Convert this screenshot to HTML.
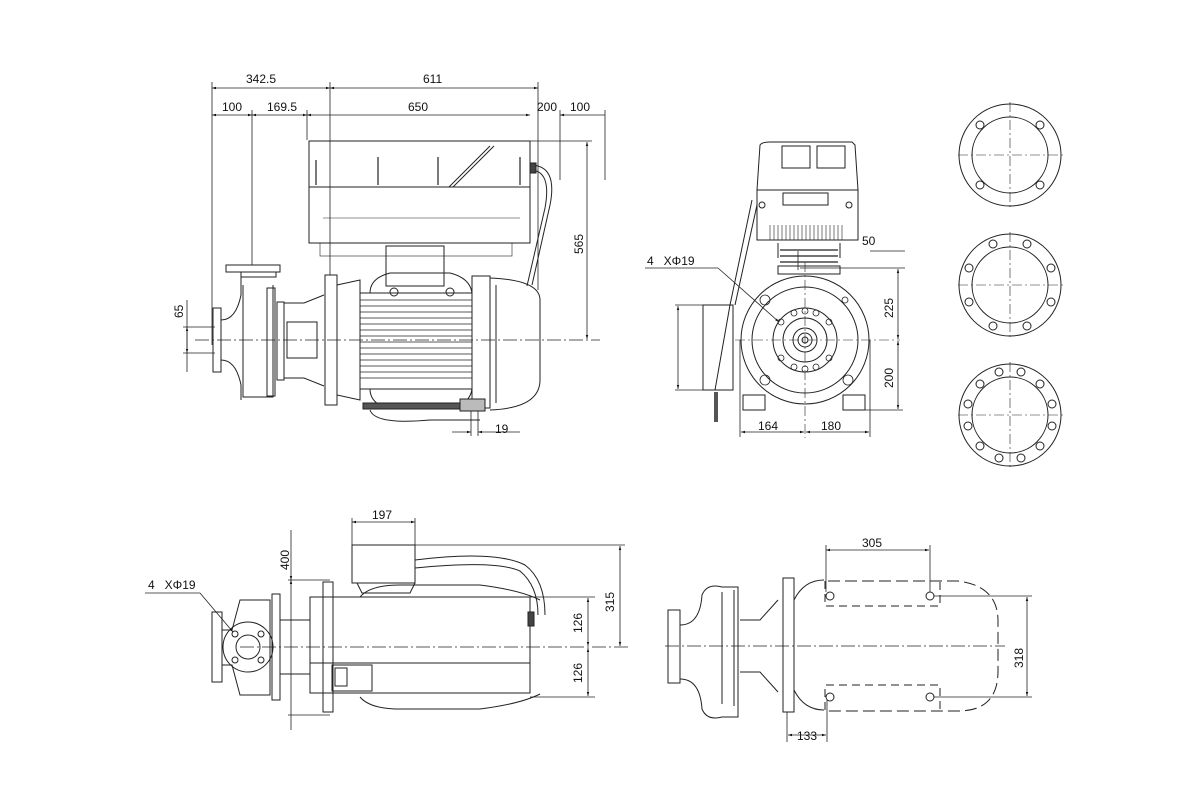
<!DOCTYPE html>
<html><head><meta charset="utf-8"><style>
html,body{margin:0;padding:0;background:#fff}
svg{display:block}
text{font-family:"Liberation Sans",sans-serif;font-size:12px;fill:#111}
</style></head><body>
<svg width="1200" height="800" viewBox="0 0 1200 800" xmlns="http://www.w3.org/2000/svg">
<defs>
<marker id="a" viewBox="0 0 10 10" refX="10" refY="5" markerWidth="7" markerHeight="5" orient="auto-start-reverse"><path d="M0,2 L10,5 L0,8z" fill="#111"/></marker>
</defs>
<g stroke="#222" stroke-width="1" fill="none">
<!-- ===== TOP LEFT VIEW ===== -->
<g stroke-width="0.8">
<line x1="212" y1="88" x2="330" y2="88" marker-start="url(#a)" marker-end="url(#a)"/>
<line x1="330" y1="88" x2="538" y2="88" marker-start="url(#a)" marker-end="url(#a)"/>
<line x1="212" y1="115" x2="252" y2="115" marker-start="url(#a)" marker-end="url(#a)"/>
<line x1="252" y1="115" x2="307" y2="115" marker-start="url(#a)" marker-end="url(#a)"/>
<line x1="307" y1="115" x2="530" y2="115" marker-start="url(#a)" marker-end="url(#a)"/>
<line x1="560" y1="115" x2="605" y2="115" marker-start="url(#a)"/>
<line x1="212" y1="82" x2="212" y2="345"/>
<line x1="252" y1="110" x2="252" y2="265"/>
<line x1="330" y1="82" x2="330" y2="275"/>
<line x1="307" y1="110" x2="307" y2="140"/>
<line x1="538" y1="82" x2="538" y2="290"/>
<line x1="560" y1="110" x2="560" y2="180"/>
<line x1="605" y1="110" x2="605" y2="180"/>
<line x1="530" y1="141" x2="592" y2="141"/>
<line x1="587" y1="142" x2="587" y2="339" marker-start="url(#a)" marker-end="url(#a)"/>
<line x1="187" y1="327" x2="187" y2="353" marker-start="url(#a)" marker-end="url(#a)"/>
<line x1="183" y1="327" x2="215" y2="327"/><line x1="183" y1="353" x2="215" y2="353"/>
<line x1="187" y1="300" x2="187" y2="372"/>
<line x1="452" y1="432" x2="471" y2="432" marker-end="url(#a)"/>
<line x1="478" y1="432" x2="520" y2="432" marker-start="url(#a)"/>
<line x1="471" y1="400" x2="471" y2="436"/><line x1="478" y1="400" x2="478" y2="436"/>
</g>
<line x1="195" y1="340" x2="600" y2="340" stroke-dasharray="14,3,2,3" stroke-width="0.7"/>
<!-- controller -->
<rect x="309" y="141" width="221" height="46"/>
<rect x="309" y="187" width="221" height="56"/>
<line x1="449" y1="187" x2="490" y2="146"/><line x1="453" y1="187" x2="494" y2="146"/>
<line x1="323" y1="218" x2="520" y2="218" stroke-width="0.6"/>
<path d="M316 185v-25M378 185v-28M438 185v-28M520 185v-28" stroke-width="1.2"/>
<rect x="320" y="243" width="192" height="13" stroke-width="0.6"/>
<path d="M530 165 q28 0 20 40 l-18 80" /><path d="M530 170 q22 0 15 38 l-18 78"/>
<rect x="530" y="163" width="6" height="10" fill="#444"/>
<!-- motor -->
<rect x="386" y="246" width="58" height="40"/>
<rect x="325" y="275" width="12" height="130"/>
<path d="M337 285 L360 280 L360 400 L337 395z"/>
<rect x="360" y="293" width="112" height="96"/>
<g stroke-width="0.7"><path d="M360 300h112M360 306h112M360 312h112M360 318h112M360 324h112M360 330h112M360 336h112M360 342h112M360 348h112M360 354h112M360 360h112M360 366h112M360 372h112M360 378h112"/></g>
<path d="M370 293 q0-15 20-20 h60 q20 5 22 20"/>
<path d="M370 389 q0 15 20 20 h60 q20 -5 22 -20"/>
<circle cx="394" cy="292" r="4"/><circle cx="450" cy="292" r="4"/>
<rect x="472" y="276" width="18" height="132"/>
<path d="M490 278 Q540 280 540 300 L540 380 Q540 408 490 410"/>
<path d="M496 285 v118"/>
<rect x="363" y="403" width="110" height="6" fill="#555"/>
<rect x="460" y="399" width="25" height="12" fill="#bbb"/>
<path d="M370 410 q5 15 60 10 h50"/>
<!-- pump -->
<rect x="213" y="308" width="8" height="64"/>
<path d="M221 320 q15 0 20 -25 v-20 M221 360 q15 0 20 25 v15"/>
<rect x="226" y="265" width="54" height="7"/>
<path d="M241 272 v5 h35 v-5"/>
<path d="M243 285 v112 h30 v-112" />
<rect x="267" y="288" width="8" height="108"/>
<rect x="277" y="302" width="7" height="78"/>
<path d="M284 303 h20 l20 -8 M284 378 h20 l20 8"/>
<rect x="287" y="322" width="30" height="36"/>
<!-- ===== TOP MIDDLE VIEW ===== -->
<path d="M757 190 L760 145 Q762 142 770 142 H852 L855 145 L858 190z"/>
<rect x="782" y="146" width="28" height="22"/><rect x="817" y="146" width="28" height="22"/>
<rect x="757" y="190" width="101" height="50"/>
<rect x="783" y="193" width="45" height="12"/>
<g stroke-width="0.6"><path d="M770 225v15M774 225v15M778 225v15M782 225v15M786 225v15M790 225v15M794 225v15M798 225v15M802 225v15M806 225v15M810 225v15M814 225v15M818 225v15M822 225v15M826 225v15M830 225v15M834 225v15M838 225v15M842 225v15"/></g>
<circle cx="762" cy="205" r="3"/><circle cx="849" cy="205" r="3"/>
<path d="M778 243 v15 M840 243 v15"/>
<path d="M780 250h30M780 256h30M780 262h30M808 250h30M808 256h30M808 262h30" stroke-width="1.2"/>
<rect x="778" y="266" width="62" height="8"/>
<circle cx="805" cy="340" r="64"/>
<circle cx="805" cy="340" r="53"/>
<circle cx="805" cy="340" r="32"/>
<circle cx="805" cy="340" r="22"/>
<circle cx="805" cy="340" r="12"/><circle cx="805" cy="340" r="7"/><circle cx="805" cy="340" r="3"/>
<g stroke-width="0.8">
<circle cx="805" cy="311" r="3"/><circle cx="805" cy="369" r="3"/><circle cx="781" cy="322" r="3"/><circle cx="829" cy="322" r="3"/><circle cx="781" cy="358" r="3"/><circle cx="829" cy="358" r="3"/><circle cx="794" cy="313" r="3"/><circle cx="816" cy="313" r="3"/><circle cx="794" cy="367" r="3"/><circle cx="816" cy="367" r="3"/>
<circle cx="765" cy="300" r="5"/><circle cx="765" cy="380" r="5"/><circle cx="848" cy="380" r="5"/><circle cx="845" cy="300" r="3"/>
</g>
<rect x="743" y="395" width="22" height="15"/><rect x="843" y="395" width="22" height="15"/>
<line x1="805" y1="262" x2="805" y2="438" stroke-dasharray="10,3,2,3" stroke-width="0.6"/>
<line x1="735" y1="340" x2="900" y2="340" stroke-dasharray="10,3,2,3" stroke-width="0.6"/>
<path d="M703 305 h30 v85 h-30z"/><path d="M730 305 l-15 85"/>
<path d="M716 392 v30" stroke-width="4" stroke="#555"/>
<path d="M752 200 l-22 105 M757 205 l-22 100"/>
<g stroke-width="0.8">
<line x1="678" y1="306" x2="678" y2="389" marker-start="url(#a)" marker-end="url(#a)"/>
<line x1="675" y1="305" x2="705" y2="305"/><line x1="675" y1="390" x2="705" y2="390"/>
<line x1="645" y1="268" x2="718" y2="268"/><line x1="718" y1="268" x2="779" y2="322" marker-end="url(#a)"/>
<line x1="870" y1="251" x2="905" y2="251"/><line x1="800" y1="268" x2="905" y2="268"/>
<line x1="798" y1="251" x2="798" y2="270"/>
<line x1="898" y1="269" x2="898" y2="339" marker-start="url(#a)" marker-end="url(#a)"/>
<line x1="898" y1="341" x2="898" y2="409" marker-start="url(#a)" marker-end="url(#a)"/>
<line x1="865" y1="410" x2="903" y2="410"/>
<line x1="741" y1="432" x2="804" y2="432" marker-start="url(#a)" marker-end="url(#a)"/>
<line x1="806" y1="432" x2="869" y2="432" marker-start="url(#a)" marker-end="url(#a)"/>
<line x1="740" y1="340" x2="740" y2="437"/><line x1="870" y1="340" x2="870" y2="437"/>
</g>
<!-- ===== FLANGES ===== -->
<g id="fl">
<circle cx="1010" cy="155" r="51"/><circle cx="1010" cy="155" r="38"/>
<line x1="958" y1="155" x2="1064" y2="155" stroke-dasharray="10,3,2,3" stroke-width="0.6"/>
<line x1="1010" y1="102" x2="1010" y2="210" stroke-dasharray="10,3,2,3" stroke-width="0.6"/>
</g>
<circle cx="980" cy="125" r="4"/><circle cx="1040" cy="125" r="4"/><circle cx="980" cy="185" r="4"/><circle cx="1040" cy="185" r="4"/>
<circle cx="1010" cy="285" r="51"/><circle cx="1010" cy="285" r="38"/>
<line x1="958" y1="285" x2="1064" y2="285" stroke-dasharray="10,3,2,3" stroke-width="0.6"/>
<line x1="1010" y1="232" x2="1010" y2="340" stroke-dasharray="10,3,2,3" stroke-width="0.6"/>
<circle cx="993" cy="244" r="4"/><circle cx="1027" cy="244" r="4"/><circle cx="993" cy="326" r="4"/><circle cx="1027" cy="326" r="4"/><circle cx="969" cy="268" r="4"/><circle cx="1051" cy="268" r="4"/><circle cx="969" cy="302" r="4"/><circle cx="1051" cy="302" r="4"/>
<circle cx="1010" cy="415" r="51"/><circle cx="1010" cy="415" r="38"/>
<line x1="958" y1="415" x2="1064" y2="415" stroke-dasharray="10,3,2,3" stroke-width="0.6"/>
<line x1="1010" y1="362" x2="1010" y2="470" stroke-dasharray="10,3,2,3" stroke-width="0.6"/>
<circle cx="999" cy="372" r="4"/><circle cx="1021" cy="372" r="4"/><circle cx="980" cy="384" r="4"/><circle cx="1040" cy="384" r="4"/><circle cx="968" cy="404" r="4"/><circle cx="1052" cy="404" r="4"/><circle cx="968" cy="426" r="4"/><circle cx="1052" cy="426" r="4"/><circle cx="980" cy="446" r="4"/><circle cx="1040" cy="446" r="4"/><circle cx="999" cy="458" r="4"/><circle cx="1021" cy="458" r="4"/>
<!-- ===== BOTTOM LEFT VIEW ===== -->
<line x1="240" y1="647" x2="630" y2="647" stroke-dasharray="14,3,2,3" stroke-width="0.7"/>
<rect x="212" y="612" width="10" height="70"/>
<path d="M222 630 h10 l8 -30 h30 v95 h-30 l-8 -30 h-10"/>
<circle cx="248" cy="647" r="25"/><circle cx="248" cy="647" r="12"/>
<circle cx="235" cy="634" r="3"/><circle cx="261" cy="634" r="3"/><circle cx="235" cy="660" r="3"/><circle cx="261" cy="660" r="3"/>
<rect x="272" y="594" width="8" height="106"/>
<rect x="280" y="620" width="30" height="54"/>
<rect x="323" y="582" width="10" height="130"/>
<rect x="352" y="545" width="63" height="38"/>
<path d="M357 583 l5 10 h48 l5 -10"/>
<path d="M415 560 q80 -10 110 5 q20 15 20 50 M415 568 q80 -8 105 3 q18 15 18 44"/>
<path d="M360 597 q10 -12 40 -12 h80 q40 5 60 15 M360 697 q10 12 40 12 h80 q40 -5 60 -15"/>
<rect x="310" y="597" width="220" height="96"/>
<line x1="310" y1="663" x2="530" y2="663"/>
<rect x="332" y="665" width="40" height="26"/><rect x="335" y="668" width="12" height="18"/>
<rect x="528" y="612" width="6" height="14" fill="#444"/>
<g stroke-width="0.8">
<line x1="352" y1="522" x2="415" y2="522" marker-start="url(#a)" marker-end="url(#a)"/>
<line x1="352" y1="518" x2="352" y2="545"/><line x1="415" y1="518" x2="415" y2="545"/>
<line x1="415" y1="545" x2="625" y2="545"/>
<line x1="620" y1="546" x2="620" y2="646" marker-start="url(#a)" marker-end="url(#a)"/>
<line x1="530" y1="597" x2="595" y2="597"/><line x1="530" y1="697" x2="595" y2="697"/>
<line x1="588" y1="598" x2="588" y2="646" marker-start="url(#a)" marker-end="url(#a)"/>
<line x1="588" y1="648" x2="588" y2="696" marker-start="url(#a)" marker-end="url(#a)"/>
<line x1="291" y1="530" x2="291" y2="580" marker-end="url(#a)"/>
<line x1="291" y1="580" x2="291" y2="715" marker-start="url(#a)"/>
<line x1="291" y1="715" x2="291" y2="730"/>
<line x1="288" y1="580" x2="330" y2="580"/><line x1="288" y1="715" x2="330" y2="715"/>
<line x1="145" y1="593" x2="200" y2="593"/><line x1="200" y1="593" x2="233" y2="632" marker-end="url(#a)"/>
</g>
<!-- ===== BOTTOM RIGHT VIEW ===== -->
<line x1="665" y1="646" x2="1005" y2="646" stroke-dasharray="14,3,2,3" stroke-width="0.7"/>
<rect x="668" y="610" width="12" height="73"/>
<path d="M680 625 q20 0 22 -30 q5 -12 20 -8 h16 v130 h-16 q-15 4 -20 -8 q-2 -30 -22 -30"/>
<path d="M722 592 v112 M734 590 v116"/>
<path d="M740 620 h20 l18 -20 M740 672 h20 l18 20"/>
<rect x="783" y="578" width="11" height="134"/>
<path d="M794 600 q10 -20 30 -20 M794 690 q10 20 30 20"/>
<path d="M828 581 h130 q40 5 40 40 v50 q0 40 -40 40 h-130" stroke-dasharray="12,5"/>
<path d="M825 581 v25 h115 v-25 M825 710 v-25 h115 v25" stroke-dasharray="8,5"/>
<circle cx="830" cy="596" r="4"/><circle cx="930" cy="596" r="4"/><circle cx="830" cy="697" r="4"/><circle cx="930" cy="697" r="4"/>
<g stroke-width="0.8">
<line x1="826" y1="550" x2="929" y2="550" marker-start="url(#a)" marker-end="url(#a)"/>
<line x1="826" y1="545" x2="826" y2="592"/><line x1="930" y1="545" x2="930" y2="592"/>
<line x1="934" y1="596" x2="1032" y2="596"/><line x1="934" y1="697" x2="1032" y2="697"/>
<line x1="1027" y1="597" x2="1027" y2="696" marker-start="url(#a)" marker-end="url(#a)"/>
<line x1="788" y1="735" x2="826" y2="735" marker-start="url(#a)" marker-end="url(#a)"/>
<line x1="787" y1="712" x2="787" y2="742"/><line x1="827" y1="700" x2="827" y2="742"/>
</g>
</g>
<!-- texts -->
<text x="246" y="83">342.5</text>
<text x="423" y="83">611</text>
<text x="222" y="111">100</text>
<text x="267" y="111">169.5</text>
<text x="408" y="111">650</text>
<text x="537" y="111">200</text>
<text x="570" y="111">100</text>
<text x="495" y="433">19</text>
<text transform="translate(583,254) rotate(-90)">565</text>
<text transform="translate(183,318) rotate(-90)">65</text>
<text x="647" y="265">4&#160;&#160;&#160;XΦ19</text>
<text x="862" y="245">50</text>
<text transform="translate(893,318) rotate(-90)">225</text>
<text transform="translate(893,388) rotate(-90)">200</text>
<text x="758" y="430">164</text>
<text x="821" y="430">180</text>
<text x="372" y="519">197</text>
<text transform="translate(289,570) rotate(-90)">400</text>
<text x="148" y="589">4&#160;&#160;&#160;XΦ19</text>
<text transform="translate(614,612) rotate(-90)">315</text>
<text transform="translate(582,633) rotate(-90)">126</text>
<text transform="translate(582,683) rotate(-90)">126</text>
<text x="862" y="547">305</text>
<text transform="translate(1023,668) rotate(-90)">318</text>
<text x="797" y="740">133</text>
</svg>
</body></html>
